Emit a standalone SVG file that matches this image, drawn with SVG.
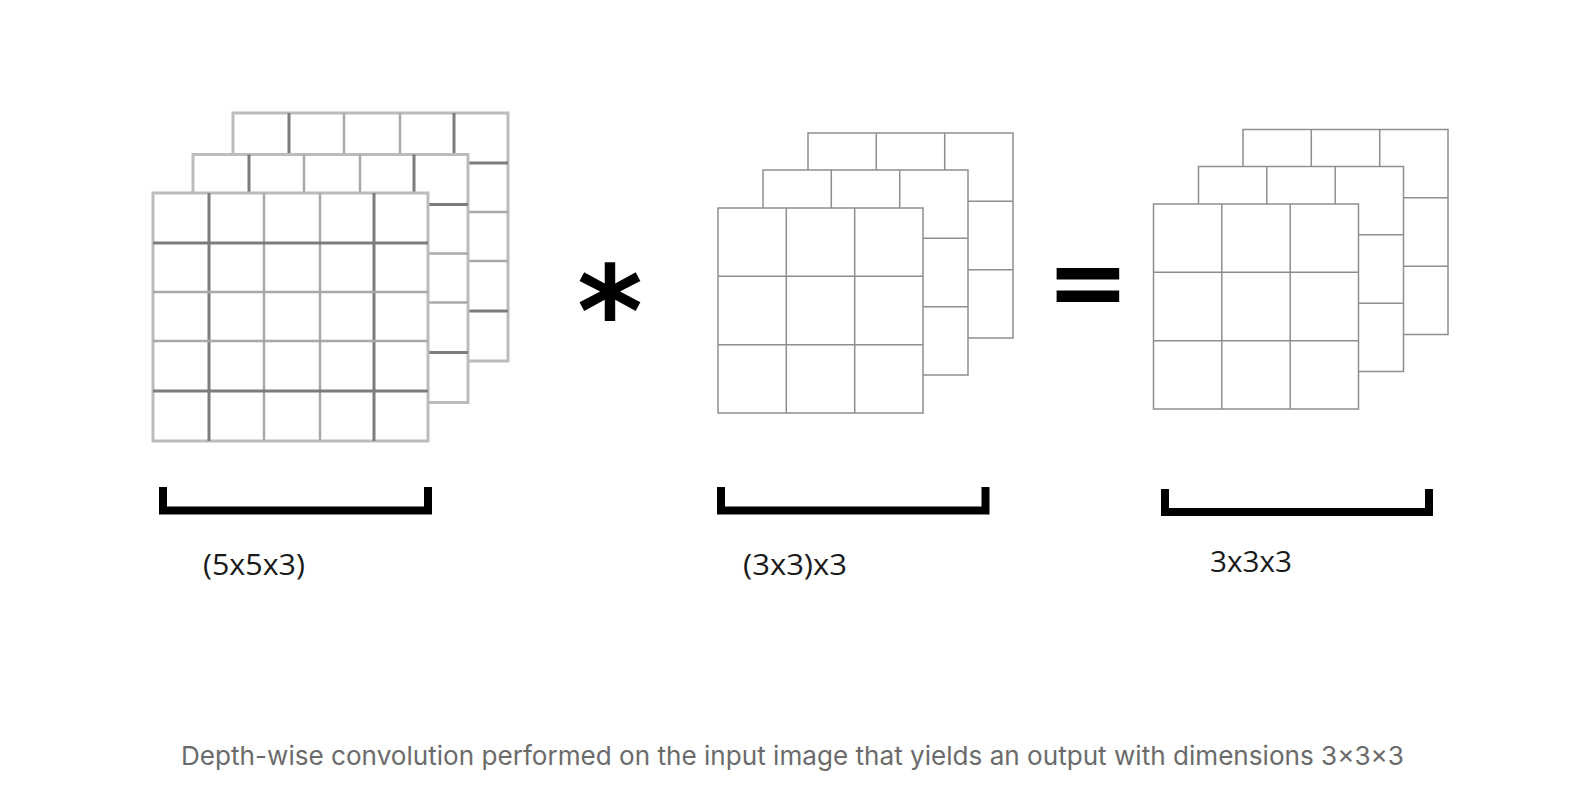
<svg xmlns="http://www.w3.org/2000/svg" xmlns:xlink="http://www.w3.org/1999/xlink" width="1578" height="804" viewBox="0 0 1578 804">
<style>
.bg{fill:#ffffff}
.b5{fill:#ffffff;stroke:#bcbcbc;stroke-width:3}
.d5{stroke:#7c7c7c;stroke-width:3}
.l5{stroke:#a9a9a9;stroke-width:2.5}
.b3{fill:#ffffff;stroke:#8e8e8e;stroke-width:1.5}
.i3{stroke:#8e8e8e;stroke-width:1.5}
.br{fill:none;stroke:#000000;stroke-width:8;stroke-linejoin:miter;stroke-linecap:butt}
.lab{font-family:"Open Sans","DejaVu Sans",sans-serif;font-size:29px;fill:#1a1a1a}
.op{font-family:"DejaVu Sans",sans-serif;font-weight:bold;fill:#000000}
.cap{font-family:Inter,"Liberation Sans",sans-serif;font-size:26px;fill:#6b6b6b}
</style>
<defs>
<g id="layer5">
<rect class="b5" x="0" y="0" width="275" height="248"/>
<line class="d5" x1="56" y1="0" x2="56" y2="248"/>
<line class="l5" x1="111" y1="0" x2="111" y2="248"/>
<line class="l5" x1="167" y1="0" x2="167" y2="248"/>
<line class="d5" x1="221" y1="0" x2="221" y2="248"/>
<line class="d5" x1="0" y1="50" x2="275" y2="50"/>
<line class="l5" x1="0" y1="99" x2="275" y2="99"/>
<line class="l5" x1="0" y1="148" x2="275" y2="148"/>
<line class="d5" x1="0" y1="198" x2="275" y2="198"/>
</g>
<g id="layer3">
<rect class="b3" x="0" y="0" width="205" height="205"/>
<line class="i3" x1="68.3" y1="0" x2="68.3" y2="205"/>
<line class="i3" x1="136.7" y1="0" x2="136.7" y2="205"/>
<line class="i3" x1="0" y1="68.3" x2="205" y2="68.3"/>
<line class="i3" x1="0" y1="136.7" x2="205" y2="136.7"/>
</g>
</defs>
<rect class="bg" x="0" y="0" width="1578" height="804"/>
<g id="input-5x5x3">
<use xlink:href="#layer5" href="#layer5" x="233" y="113"/>
<use xlink:href="#layer5" href="#layer5" x="193" y="154.5"/>
<use xlink:href="#layer5" href="#layer5" x="153" y="193"/>
</g>
<g id="kernel-3x3x3">
<use xlink:href="#layer3" href="#layer3" x="808" y="133"/>
<use xlink:href="#layer3" href="#layer3" x="763" y="170"/>
<use xlink:href="#layer3" href="#layer3" x="718" y="208"/>
</g>
<g id="output-3x3x3">
<use xlink:href="#layer3" href="#layer3" x="1243" y="129.5"/>
<use xlink:href="#layer3" href="#layer3" x="1198.5" y="166.5"/>
<use xlink:href="#layer3" href="#layer3" x="1153.5" y="204"/>
</g>
<g id="operators">
<text class="op" x="610" y="356" font-size="126" text-anchor="middle">*</text>
<text class="op" x="1088" y="316" font-size="100" text-anchor="middle">=</text>
</g>
<g id="brackets">
<path class="br" d="M163,487 V510.5 H428 V487"/>
<path class="br" d="M721,487 V510.5 H985.5 V487"/>
<path class="br" d="M1165,489 V512 H1429 V489"/>
</g>
<g id="labels">
<text class="lab" x="203" y="575" textLength="102" lengthAdjust="spacingAndGlyphs">(5x5x3)</text>
<text class="lab" x="743" y="575" textLength="104" lengthAdjust="spacingAndGlyphs">(3x3)x3</text>
<text class="lab" x="1210" y="572" textLength="82" lengthAdjust="spacingAndGlyphs">3x3x3</text>
</g>
<g id="caption">
<text class="cap" x="181" y="765" textLength="1223" lengthAdjust="spacingAndGlyphs">Depth-wise convolution performed on the input image that yields an output with dimensions 3×3×3</text>
</g>
</svg>
